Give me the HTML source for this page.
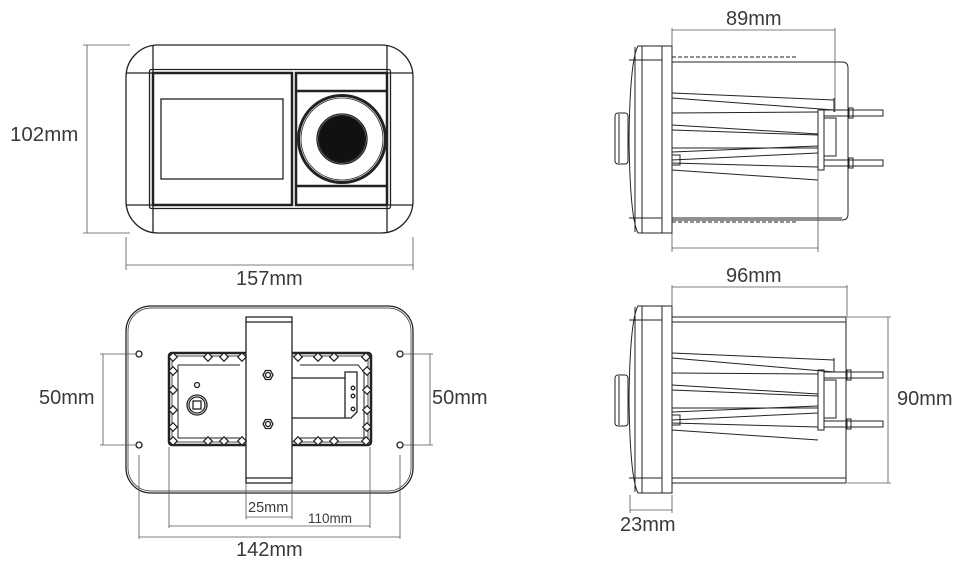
<!DOCTYPE html>
<html><head><meta charset="utf-8"><style>
html,body{margin:0;padding:0;background:#fff;width:967px;height:566px;overflow:hidden}
svg{display:block}
text{font-family:"Liberation Sans",sans-serif;fill:#3a3a3a}
</style></head><body>
<svg width="967" height="566" viewBox="0 0 967 566" xmlns="http://www.w3.org/2000/svg">
<defs><rect id="d" x="-3" y="-3" width="6" height="6" transform="rotate(45)"/></defs>
<g fill="none" stroke="#222" stroke-width="1.3">
<rect x="126" y="45" width="287" height="188" rx="32"/>
<line x1="153" y1="45" x2="153" y2="233"/><line x1="387" y1="45" x2="387" y2="233"/>
<line x1="126" y1="73" x2="153" y2="73"/><line x1="387" y1="73" x2="413" y2="73"/>
<line x1="126" y1="205" x2="153" y2="205"/><line x1="387" y1="205" x2="413" y2="205"/>
<rect x="149.5" y="69.5" width="241" height="139" rx="2"/>
<rect x="153" y="73" width="139" height="132" stroke-width="2.5"/>
<rect x="161" y="99" width="122" height="80"/>
<rect x="296" y="73" width="91" height="132" stroke-width="2.5"/>
<line x1="296" y1="91" x2="387" y2="91" stroke-width="2.5"/>
<line x1="296" y1="186" x2="387" y2="186" stroke-width="2.5"/>
<circle cx="342" cy="139" r="43.5" stroke-width="3"/>
<circle cx="342" cy="139" r="41" stroke-width="0.8"/>
<circle cx="342" cy="139" r="25"/>
<circle cx="342" cy="139" r="23.5" fill="#111"/>
</g>
<g fill="none" stroke="#555" stroke-width="0.8">
<line x1="87" y1="45" x2="87" y2="233"/><line x1="83" y1="45" x2="130" y2="45"/><line x1="83" y1="233" x2="130" y2="233"/>
<line x1="126" y1="237" x2="126" y2="270"/><line x1="413" y1="237" x2="413" y2="270"/>
<line x1="126" y1="265" x2="413" y2="265"/>
</g>
<text x="10" y="141" font-size="20.5">102mm</text>
<text x="236" y="285" font-size="20">157mm</text>

<g fill="none" stroke="#222" stroke-width="1.3">
<rect x="126" y="306" width="287" height="187" rx="25"/>
<rect x="128" y="308" width="283" height="183" rx="23" stroke-width="0.7"/>
<circle cx="139" cy="354" r="3"/><circle cx="139" cy="445" r="3"/>
<circle cx="400" cy="354" r="3"/><circle cx="400" cy="445" r="3"/>
<rect x="169" y="353" width="202" height="92" rx="3" stroke-width="2.5"/>
<path d="M178 365 H240 M300 365 H358 L364 372 V438 M178 365 V438 H240 M300 438 H364" stroke-width="1"/>
<rect x="172" y="356" width="196" height="86" stroke-width="0.8"/>
<circle cx="197" cy="405" r="10"/><circle cx="197" cy="405" r="8"/>
<rect x="193" y="401" width="8" height="8"/>
<circle cx="197" cy="385" r="2.5"/>
<path d="M292 378 H345 V372 H357 V412 L351 418 H292"/>
<line x1="345" y1="378" x2="345" y2="418"/>
<circle cx="353" cy="388" r="1.8"/><circle cx="353" cy="396" r="1.8"/><circle cx="353" cy="409" r="1.8"/>
<rect x="246" y="317" width="46" height="166" fill="#fff"/>
<line x1="246" y1="322" x2="292" y2="322"/><line x1="246" y1="478" x2="292" y2="478"/>
<polygon points="263,375 265.5,370.5 270.5,370.5 273,375 270.5,379.5 265.5,379.5"/>
<circle cx="268" cy="375" r="2.5"/>
<polygon points="263,424 265.5,419.5 270.5,419.5 273,424 270.5,428.5 265.5,428.5"/>
<circle cx="268" cy="424" r="2.5"/>
</g>
<g fill="#fff" stroke="#222" stroke-width="1.2">
<use href="#d" x="173" y="357"/><use href="#d" x="208" y="357"/><use href="#d" x="224" y="357"/><use href="#d" x="242" y="357"/>
<use href="#d" x="298" y="357"/><use href="#d" x="318" y="357"/><use href="#d" x="334" y="357"/><use href="#d" x="366" y="357"/>
<use href="#d" x="173" y="441"/><use href="#d" x="208" y="441"/><use href="#d" x="224" y="441"/><use href="#d" x="242" y="441"/>
<use href="#d" x="298" y="441"/><use href="#d" x="318" y="441"/><use href="#d" x="334" y="441"/><use href="#d" x="366" y="441"/>
<use href="#d" x="173" y="371"/><use href="#d" x="173" y="390"/><use href="#d" x="173" y="410"/><use href="#d" x="173" y="427"/>
<use href="#d" x="367" y="371"/><use href="#d" x="367" y="390"/><use href="#d" x="367" y="410"/><use href="#d" x="367" y="427"/>
</g>
<g fill="none" stroke="#555" stroke-width="0.8">
<line x1="100" y1="354" x2="136" y2="354"/><line x1="100" y1="445" x2="136" y2="445"/><line x1="103" y1="354" x2="103" y2="445"/>
<line x1="403" y1="354" x2="433" y2="354"/><line x1="403" y1="445" x2="433" y2="445"/><line x1="430" y1="354" x2="430" y2="445"/>
<line x1="246" y1="483" x2="246" y2="519"/><line x1="292" y1="483" x2="292" y2="519"/><line x1="246" y1="517" x2="292" y2="517"/>
<line x1="169" y1="447" x2="169" y2="528"/><line x1="370" y1="447" x2="370" y2="528"/><line x1="169" y1="526" x2="370" y2="526"/>
<line x1="139" y1="455" x2="139" y2="539"/><line x1="400" y1="455" x2="400" y2="539"/><line x1="139" y1="537" x2="400" y2="537"/>
</g>
<text x="39" y="404" font-size="20">50mm</text>
<text x="432" y="404" font-size="20">50mm</text>
<text x="248" y="512" font-size="14.5">25mm</text>
<text x="308" y="523" font-size="13.5">110mm</text>
<text x="236" y="556" font-size="20">142mm</text>

<g fill="none" stroke="#222" stroke-width="1">
<path d="M672 46 H638 Q630 60 629 139 Q630 218 638 233 H672 Z"/>
<line x1="635" y1="47" x2="635" y2="232"/><line x1="642" y1="46" x2="642" y2="233"/><line x1="662" y1="46" x2="662" y2="233"/>
<line x1="629" y1="60" x2="662" y2="60"/><line x1="629" y1="218" x2="662" y2="218"/>
<rect x="615" y="113" width="13" height="51" rx="3"/><line x1="619" y1="114" x2="619" y2="163"/>
<line x1="672" y1="57" x2="796" y2="57" stroke-dasharray="4 2"/>
<path d="M672 62 H842 Q848 62 848 68 V214 Q848 220 842 220 H672"/>
<line x1="672" y1="222" x2="796" y2="222" stroke-dasharray="4 2"/>
<line x1="672" y1="218" x2="842" y2="218"/>
<path d="M672 93 L834 100 M672 98 L834 110 M672 113 L818 112 M672 125 L818 134 M672 130 L818 135 M672 148 L818 148 M672 152 L818 146 M672 160 L818 153 M672 163 L818 167 M672 170 L818 180"/>
<line x1="834" y1="98" x2="834" y2="112"/>
<rect x="818" y="110" width="6" height="60"/>
<rect x="824" y="118" width="12" height="38"/>
<rect x="824" y="110" width="59" height="6"/><rect x="824" y="160" width="59" height="6"/>
<rect x="849" y="108" width="4" height="10"/><rect x="849" y="158" width="4" height="10"/>
<rect x="672" y="155" width="8" height="10"/>
</g>
<g fill="none" stroke="#555" stroke-width="0.8">
<line x1="672" y1="30" x2="835" y2="30"/><line x1="672" y1="28" x2="672" y2="46"/><line x1="835" y1="28" x2="835" y2="112"/>
<line x1="672" y1="248" x2="818" y2="248"/><line x1="672" y1="233" x2="672" y2="252"/><line x1="818" y1="170" x2="818" y2="252"/>
</g>
<text x="726" y="25" font-size="20">89mm</text>

<g fill="none" stroke="#222" stroke-width="1">
<path d="M672 306 H638 Q630 320 629 399 Q630 478 638 493 H672 Z"/>
<line x1="635" y1="307" x2="635" y2="492"/><line x1="642" y1="306" x2="642" y2="493"/><line x1="662" y1="306" x2="662" y2="493"/>
<line x1="629" y1="320" x2="662" y2="320"/><line x1="629" y1="478" x2="662" y2="478"/>
<rect x="615" y="375" width="13" height="51" rx="3"/><line x1="619" y1="376" x2="619" y2="425"/>
<path d="M672 322 H846 V478 H672"/>
<line x1="672" y1="317" x2="846" y2="317"/><line x1="846" y1="317" x2="846" y2="483"/>
<line x1="672" y1="483" x2="846" y2="483"/>
<path d="M672 353 L834 360 M672 358 L834 372 M672 373 L818 374 M672 385 L818 394 M672 390 L818 396 M672 408 L818 408 M672 412 L818 406 M672 420 L818 413 M672 423 L818 427 M672 430 L818 440"/>
<line x1="834" y1="358" x2="834" y2="372"/>
<rect x="818" y="370" width="6" height="60"/>
<rect x="824" y="380" width="12" height="38"/>
<rect x="824" y="372" width="59" height="6"/><rect x="824" y="421" width="59" height="6"/>
<rect x="847" y="370" width="4" height="10"/><rect x="847" y="419" width="4" height="10"/>
<rect x="672" y="415" width="8" height="10"/>
</g>
<g fill="none" stroke="#555" stroke-width="0.8">
<line x1="672" y1="287" x2="847" y2="287"/><line x1="672" y1="285" x2="672" y2="306"/><line x1="847" y1="285" x2="847" y2="317"/>
<line x1="847" y1="317" x2="891" y2="317"/><line x1="847" y1="483" x2="891" y2="483"/><line x1="888" y1="317" x2="888" y2="483"/>
<line x1="630" y1="495" x2="630" y2="513"/><line x1="672" y1="495" x2="672" y2="513"/><line x1="630" y1="510" x2="672" y2="510"/>
</g>
<text x="726" y="282" font-size="20">96mm</text>
<text x="897" y="405" font-size="20">90mm</text>
<text x="620" y="531" font-size="20">23mm</text>
</svg>
</body></html>
